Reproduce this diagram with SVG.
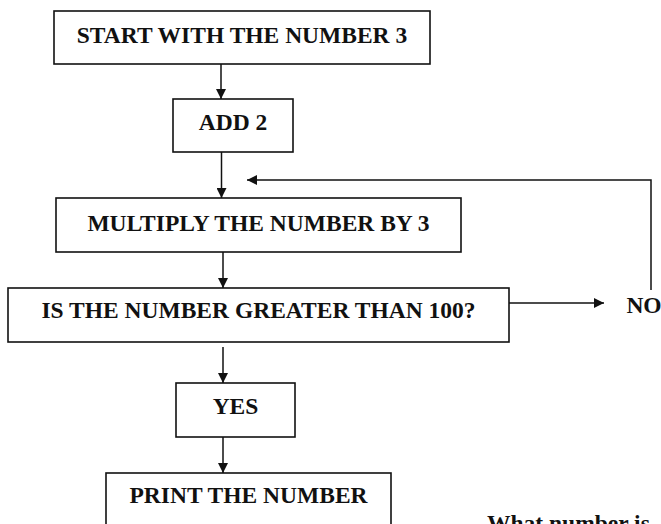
<svg xmlns="http://www.w3.org/2000/svg" width="661" height="524" viewBox="0 0 661 524">
<style>
.box{fill:#fff;stroke:#111;stroke-width:1.6}
.t{font-family:"Liberation Serif","Times New Roman",serif;font-weight:bold;font-size:23.5px;fill:#111;text-anchor:middle}
.ln{fill:none;stroke:#111;stroke-width:1.5}
</style>
<defs>
<marker id="ah" viewBox="0 0 10 10" refX="10" refY="5" markerWidth="10" markerHeight="10" markerUnits="userSpaceOnUse" orient="auto">
<path d="M0,0 L10,5 L0,10 Z" fill="#111"/>
</marker>
</defs>
<rect width="661" height="524" fill="#fff"/>
<g id="start">
<rect class="box" x="54" y="11" width="376" height="53"/>
<text class="t" x="242" y="43">START WITH THE NUMBER 3</text>
</g>
<g id="add2">
<rect class="box" x="173" y="99" width="120" height="53"/>
<text class="t" x="233" y="130">ADD 2</text>
</g>
<g id="multiply">
<rect class="box" x="56" y="198" width="405" height="54"/>
<text class="t" x="258.5" y="231">MULTIPLY THE NUMBER BY 3</text>
</g>
<g id="question">
<rect class="box" x="8" y="288" width="501" height="54"/>
<text class="t" x="258.5" y="318">IS THE NUMBER GREATER THAN 100?</text>
</g>
<g id="no">
<text class="t" x="644" y="313">NO</text>
</g>
<g id="yes">
<rect class="box" x="176" y="383" width="119" height="54"/>
<text class="t" x="235.5" y="414">YES</text>
</g>
<g id="print">
<rect class="box" x="106" y="473" width="285" height="62"/>
<text class="t" x="248.5" y="503">PRINT THE NUMBER</text>
</g>
<g id="question-text">
<text class="t" x="487" y="530.5" style="text-anchor:start">What number is</text>
</g>
<g id="connectors">
<line class="ln" x1="221" y1="64" x2="221" y2="99" marker-end="url(#ah)"/>
<line class="ln" x1="221.5" y1="152" x2="221.5" y2="198" marker-end="url(#ah)"/>
<line class="ln" x1="223" y1="252" x2="223" y2="288" marker-end="url(#ah)"/>
<line class="ln" x1="223" y1="347" x2="223" y2="383" marker-end="url(#ah)"/>
<line class="ln" x1="223" y1="437" x2="223" y2="473" marker-end="url(#ah)"/>
<line class="ln" x1="509" y1="303" x2="604" y2="303" marker-end="url(#ah)"/>
<polyline class="ln" points="651,290 651,180 247,180" marker-end="url(#ah)"/>
</g>
</svg>
